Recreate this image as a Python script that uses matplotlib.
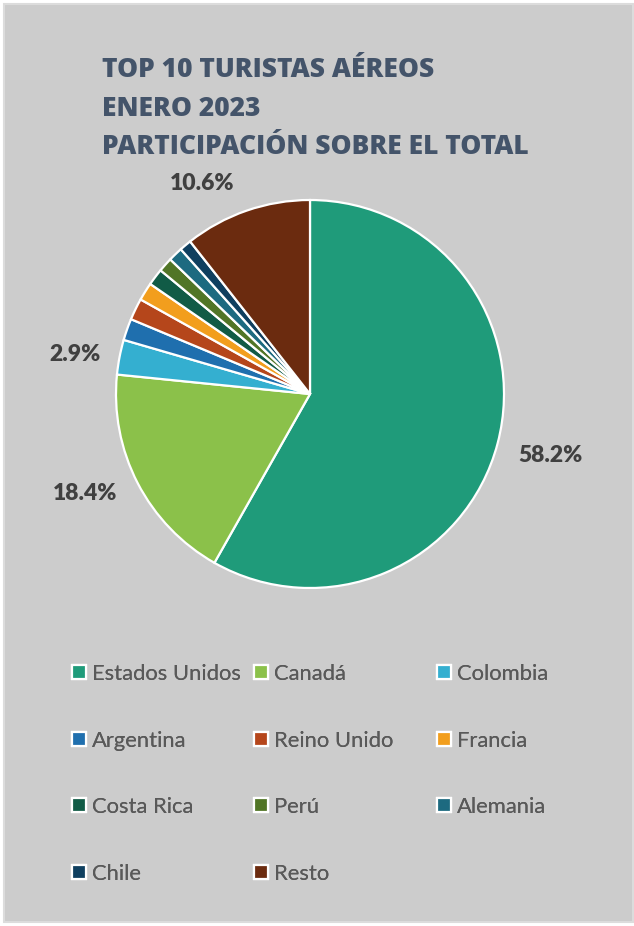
import numpy as np
import matplotlib
matplotlib.use("Agg")
import matplotlib.pyplot as plt
from matplotlib.patches import Rectangle

# Data
paises = ["Estados Unidos", "Canadá", "Colombia", "Argentina", "Reino Unido",
          "Francia", "Costa Rica", "Perú", "Alemania", "Chile", "Resto"]
participacion = [58.2, 18.4, 2.9, 1.8, 1.8, 1.5, 1.4, 1.2, 1.2, 1.0, 10.6]
colores = ["#1F9B7A", "#8BC14A", "#34AFD0", "#1F6FAE", "#B5461B", "#F29E1D",
           "#115B46", "#517526", "#1D6A80", "#0F3F5F", "#6B2B0F"]
etiquetas_visibles = ["Estados Unidos", "Canadá", "Colombia", "Resto"]
titulo = ["TOP 10 TURISTAS AÉREOS", "ENERO 2023", "PARTICIPACIÓN SOBRE EL TOTAL"]

W, H = 634, 926
fig = plt.figure(figsize=(W / 100, H / 100), dpi=100, facecolor="white")

# Gray panel with a light frame
fig.patches.append(Rectangle((4 / W, 4 / H), 629 / W, 918 / H, transform=fig.transFigure,
                             facecolor="#CCCCCC", edgecolor="#DCDCDC", linewidth=1.5,
                             zorder=-10))

# Title
for i, linea in enumerate(titulo):
    fig.text(102 / W, 1 - (70 + i * 38.5) / H, linea, fontsize=19, fontweight=800,
             family="Open Sans", color="#44546A", va="center", ha="left")

# Pie
cx, cy, r = 310, 394, 194
ax = fig.add_axes([(cx - r) / W, (H - cy - r) / H, 2 * r / W, 2 * r / H])
wedges, _ = ax.pie(participacion, colors=colores, startangle=90, counterclock=False,
                   radius=1, wedgeprops=dict(edgecolor="white", linewidth=1.6))
ax.set_xlim(-1, 1)
ax.set_ylim(-1, 1)
ax.axis("off")

label_dist = {"Estados Unidos": 1.28, "Canadá": 1.27, "Colombia": 1.23, "Resto": 1.22}
angle_shift = {"Estados Unidos": 0.5, "Canadá": -3.5, "Colombia": 1.5, "Resto": 8}
for w, pais, val in zip(wedges, paises, participacion):
    if pais not in etiquetas_visibles:
        continue
    theta = np.deg2rad((w.theta1 + w.theta2) / 2 + angle_shift.get(pais, 0))
    d = label_dist[pais]
    ax.text(d * np.cos(theta), d * np.sin(theta), f"{val:.1f}%", ha="center", va="center",
            fontsize=16.5, fontweight="heavy", family="Lato", color="#404040", clip_on=False)

# Legend laid out row by row in three columns
col_x = [72, 254, 437]
for c in range(3):
    idx = list(range(c, len(paises), 3))
    leg = fig.legend([wedges[i] for i in idx], [paises[i] for i in idx],
                     loc="upper left", bbox_to_anchor=(col_x[c] / W, 1 - 664 / H),
                     frameon=False, prop=dict(family="Lato", size=15.8),
                     labelcolor="#595959", handlelength=0.62, handleheight=0.62,
                     handletextpad=0.3, labelspacing=2.12, borderpad=0, borderaxespad=0)
    fig.add_artist(leg)

fig.savefig("out.png", dpi=100, facecolor=fig.get_facecolor())
